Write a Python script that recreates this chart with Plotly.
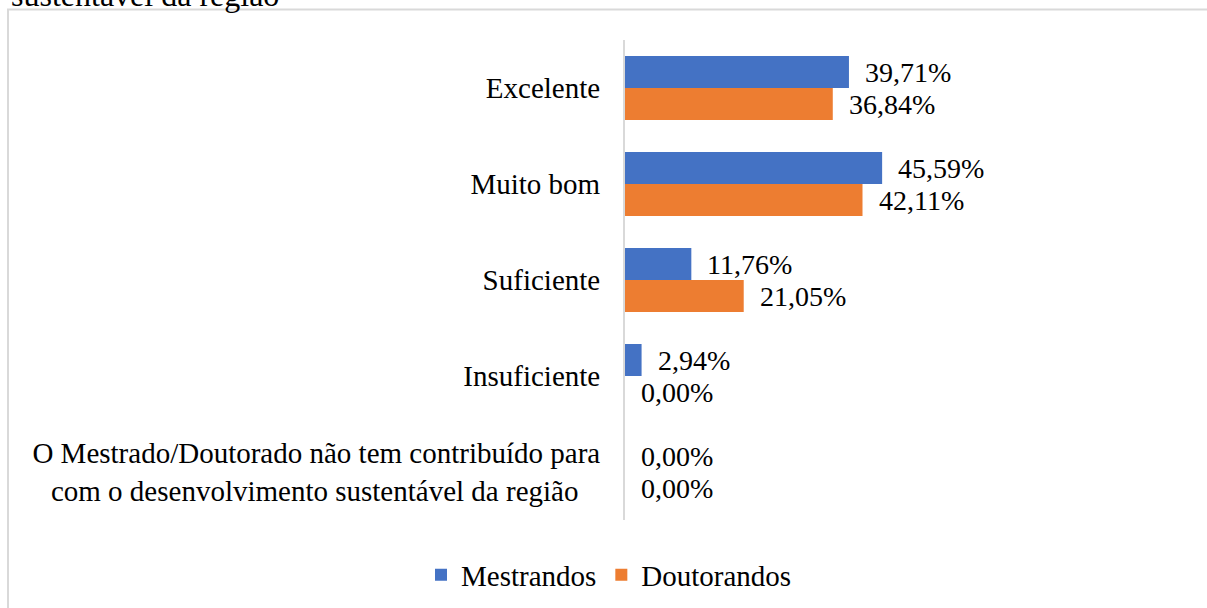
import plotly.graph_objects as go

categories = [
    "Excelente",
    "Muito bom",
    "Suficiente",
    "Insuficiente",
    "O Mestrado/Doutorado não tem contribuído para<br>com o desenvolvimento sustentável da região\u00a0\u00a0\u00a0",
]
mestrandos = [39.71, 45.59, 11.76, 2.94, 0.00]
doutorandos = [36.84, 42.11, 21.05, 0.00, 0.00]
series_names = ["Mestrandos", "Doutorandos"]
caption_tail = "sustentável da região"

BLUE = "#4472C4"
ORANGE = "#ED7D31"
FONT = "Liberation Serif"

W, H = 1207, 608
L, R, T, B = 625, 18, 40, 88
PW, PH = W - L - R, H - T - B


def fmt(v):
    return f"{v:.2f}".replace(".", ",") + "%"


fig = go.Figure()
fig.add_trace(go.Bar(y=categories, x=mestrandos, name=series_names[0], orientation="h",
                     marker=dict(color=BLUE, line=dict(width=0))))
fig.add_trace(go.Bar(y=categories, x=doutorandos, name=series_names[1], orientation="h",
                     marker=dict(color=ORANGE, line=dict(width=0))))

annotations = []
for vals, shift in ((mestrandos, 16), (doutorandos, -16)):
    for c, v in zip(categories, vals):
        annotations.append(dict(x=v, y=c, xref="x", yref="y", text=fmt(v), showarrow=False,
                                xanchor="left", yanchor="middle", xshift=14, yshift=shift,
                                font=dict(family=FONT, size=28, color="#000000")))

# cropped caption line above the chart frame (cut off at the top, as in the reference)
annotations.append(dict(x=(9 - L) / PW, y=(H - B - 15) / PH, xref="paper", yref="paper",
                        text=caption_tail, showarrow=False, xanchor="left", yanchor="bottom",
                        font=dict(family=FONT, size=32, color="#000000")))

fig.update_layout(
    width=W, height=H,
    margin=dict(l=L, r=R, t=T, b=B, autoexpand=False),
    paper_bgcolor="white", plot_bgcolor="white",
    barmode="group", bargap=0.333, bargroupgap=0,
    font=dict(family=FONT, size=29, color="#000000"),
    xaxis=dict(range=[0, 100], visible=False, showgrid=False, zeroline=False, fixedrange=True),
    yaxis=dict(autorange="reversed", showgrid=False, zeroline=False, showline=True,
               linecolor="#d9d9d9", linewidth=2, ticks="", ticklabelstandoff=17,
               tickfont=dict(family=FONT, size=29, color="#000000")),
    legend=dict(orientation="h", x=(609 - L) / PW, xanchor="center", y=(H - B - 575) / PH,
                yanchor="middle", font=dict(family=FONT, size=29, color="#000000"),
                itemclick=False, bgcolor="rgba(0,0,0,0)"),
    annotations=annotations,
    shapes=[dict(type="rect", xref="paper", yref="paper",
                 x0=(8 - L) / PW, x1=(1215 - L) / PW,
                 y0=(H - B - 615) / PH, y1=(H - B - 9.5) / PH,
                 line=dict(color="#d9d9d9", width=2), fillcolor="rgba(0,0,0,0)", layer="below")],
    showlegend=True,
)

fig.write_html("out.html", config={"displayModeBar": False},
               post_script="document.body.style.margin='0px';")
